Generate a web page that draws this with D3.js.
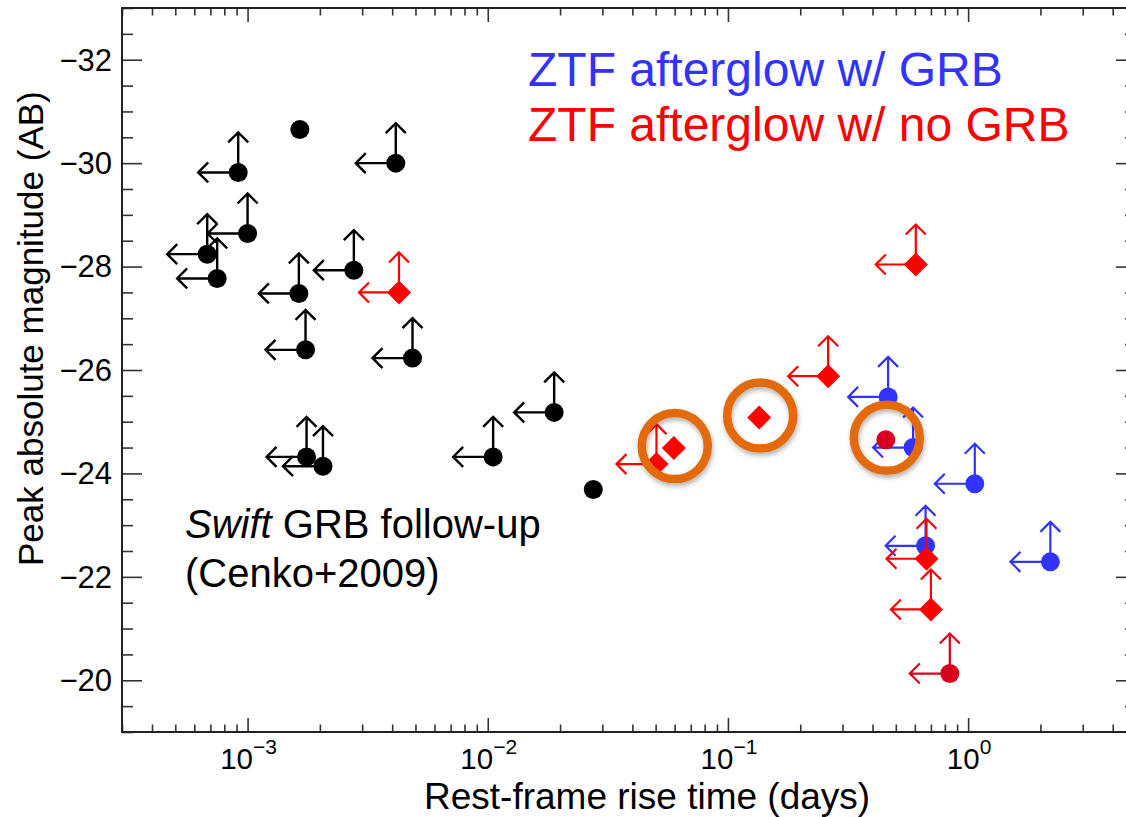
<!DOCTYPE html>
<html>
<head>
<meta charset="utf-8">
<script src="https://cdn.jsdelivr.net/npm/d3@7"></script>
<style>
  html, body { margin: 0; padding: 0; background: #fff; }
  svg { display: block; font-family: "Liberation Sans", Arial, Helvetica, sans-serif; }
</style>
</head>
<body>
<svg id="chart" width="1126" height="817"></svg>
<script>
// Swift GRB follow-up sample (Cenko+2009): rise time [days], peak abs. mag, limit flag
const swiftRise  = [1.65e-3, 9.14e-4, 1.0e-3, 6.79e-4, 7.47e-4, 1.635e-3, 1.743e-3, 2.77e-3, 4.14e-3, 4.86e-3, 1.76e-3, 2.06e-3, 1.89e-2, 1.053e-2, 2.75e-2];
const swiftMag   = [-30.65, -29.82, -28.64, -28.24, -27.77, -27.48, -26.39, -27.93, -30.0, -26.23, -24.32, -24.14, -25.18, -24.32, -23.69];
const swiftLimit = [false, true, true, true, true, true, true, true, true, true, true, true, true, true, false];

// ZTF afterglows with an associated GRB
const grbRise  = [0.4645, 0.590, 1.066, 0.665, 2.20];
const grbMag   = [-25.48, -24.50, -23.80, -22.60, -22.29];
const grbLimit = [true, true, true, true, true];

// ZTF afterglows without a GRB (diamonds)
const noGrbRise  = [4.27e-3, 5.04e-2, 5.95e-2, 0.1349, 0.2614, 0.6055, 0.671, 0.70];
const noGrbMag   = [-27.50, -24.18, -24.49, -25.08, -25.88, -28.04, -22.35, -21.37];
const noGrbLimit = [true, true, false, false, true, true, true, true];

// ZTF afterglows without a GRB (dots)
const noGrbDotRise  = [0.4542, 0.839];
const noGrbDotMag   = [-24.65, -20.13];
const noGrbDotLimit = [false, true];

// Highlighted events (ringed)
const ringRise = [5.95e-2, 0.1349, 0.4542];
const ringMag  = [-24.49, -25.08, -24.65];

const xMajorTicks = [1e-3, 1e-2, 1e-1, 1];
const xTickExp    = ["−3", "−2", "−1", "0"];
const yMajorTicks = [-32, -30, -28, -26, -24, -22, -20];

const legendLabels = ["ZTF afterglow w/ GRB", "ZTF afterglow w/ no GRB"];

const COLORS = { swift: "#000000", grb: "#3333ff", noGrb: "#ff0000", noGrbDot: "#d8001f", ring: "#e26b0a" };

const svg = d3.select("#chart");
const plotLeft = 122, plotRight = 1136, plotTop = 8, plotBottom = 732;

const x = d3.scaleLog().domain([3e-4, 5]).range([plotLeft, plotRight]);
const y = d3.scaleLinear().domain([-19, -33]).range([plotBottom, plotTop]);

const zip = (t, m, l) => t.map((v, i) => ({ t: v, m: m[i], lim: l ? l[i] : false }));

// drop shadow for the highlight rings
const defs = svg.append("defs");
const f = defs.append("filter").attr("id", "ringShadow").attr("x", "-30%").attr("y", "-30%").attr("width", "160%").attr("height", "160%");
f.append("feDropShadow").attr("dx", 1).attr("dy", 3).attr("stdDeviation", 2.5).attr("flood-color", "#000").attr("flood-opacity", 0.3);

// ---------- axes ----------
const allX = x.ticks();
const xMinor = allX.filter(v => !xMajorTicks.some(m => Math.abs(m - v) / m < 1e-6));
const yMinor = d3.range(-33, -18.9, 0.5).filter(v => !yMajorTicks.includes(v));

const axisG = svg.append("g").attr("class", "axes");
const tickCol = "#333";

function drawAxis(axis, tx, ty) {
  const g = axisG.append("g").attr("transform", `translate(${tx},${ty})`).call(axis);
  g.select(".domain").remove();
  g.selectAll("line").attr("stroke", tickCol).attr("stroke-width", 1.6);
  g.selectAll("text").remove();
  return g;
}
// bottom & top, ticks pointing inward
drawAxis(d3.axisBottom(x).tickValues(xMajorTicks).tickSizeInner(-14).tickSizeOuter(0), 0, plotBottom);
drawAxis(d3.axisBottom(x).tickValues(xMinor).tickSizeInner(-7.5).tickSizeOuter(0), 0, plotBottom);
drawAxis(d3.axisTop(x).tickValues(xMajorTicks).tickSizeInner(-14).tickSizeOuter(0), 0, plotTop);
drawAxis(d3.axisTop(x).tickValues(xMinor).tickSizeInner(-7.5).tickSizeOuter(0), 0, plotTop);
// left & right
drawAxis(d3.axisLeft(y).tickValues(yMajorTicks).tickSizeInner(-20).tickSizeOuter(0), plotLeft, 0);
drawAxis(d3.axisLeft(y).tickValues(yMinor).tickSizeInner(-11).tickSizeOuter(0), plotLeft, 0);
drawAxis(d3.axisRight(y).tickValues(yMajorTicks).tickSizeInner(-20).tickSizeOuter(0), plotRight, 0);
drawAxis(d3.axisRight(y).tickValues(yMinor).tickSizeInner(-11).tickSizeOuter(0), plotRight, 0);

axisG.append("rect")
  .attr("x", plotLeft).attr("y", plotTop).attr("width", plotRight - plotLeft).attr("height", plotBottom - plotTop)
  .attr("fill", "none").attr("stroke", "#222").attr("stroke-width", 2);

// x tick labels: 10 with superscript exponent
const xLab = axisG.append("g");
xMajorTicks.forEach((v, i) => {
  const t = xLab.append("text")
    .attr("x", x(v) + 1).attr("y", 769)
    .attr("text-anchor", "middle")
    .attr("font-size", 29.5).attr("fill", "#000");
  t.append("tspan").text("10");
  t.append("tspan").attr("dy", -15).attr("font-size", 21).text(xTickExp[i]);
});

// y tick labels
const yFmt = d3.format("d");
axisG.append("g").selectAll("text").data(yMajorTicks).join("text")
  .attr("x", 112).attr("y", d => y(d))
  .attr("dy", "0.35em")
  .attr("text-anchor", "end")
  .attr("font-size", 31).attr("fill", "#000")
  .text(d => yFmt(d));

// axis titles
svg.append("text")
  .attr("x", 424).attr("y", 809)
  .attr("font-size", 37).attr("fill", "#000")
  .text("Rest-frame rise time (days)");
svg.append("text")
  .attr("transform", "translate(43,566) rotate(-90)")
  .attr("font-size", 35).attr("fill", "#000")
  .text("Peak absolute magnitude (AB)");

// ---------- data marks ----------
const plot = svg.append("g");
const ARROW = 40, HEAD = 10;

function limitArrows(g, data, color, width) {
  const a = g.append("g").attr("stroke", color).attr("stroke-width", width).attr("fill", "none")
    .attr("stroke-linecap", "butt").attr("stroke-linejoin", "miter");
  a.selectAll("path").data(data.filter(d => d.lim)).join("path")
    .attr("d", d => {
      const cx = x(d.t), cy = y(d.m);
      return `M${cx},${cy}V${cy - ARROW}` +
             `M${cx - HEAD},${cy - ARROW + HEAD}L${cx},${cy - ARROW}L${cx + HEAD},${cy - ARROW + HEAD}` +
             `M${cx},${cy}H${cx - ARROW}` +
             `M${cx - ARROW + HEAD},${cy - HEAD}L${cx - ARROW},${cy}L${cx - ARROW + HEAD},${cy + HEAD}`;
    });
}
function dots(g, data, color, r) {
  g.append("g").selectAll("circle").data(data).join("circle")
    .attr("cx", d => x(d.t)).attr("cy", d => y(d.m)).attr("r", r).attr("fill", color);
}
function diamonds(g, data, color, s) {
  g.append("g").selectAll("path").data(data).join("path")
    .attr("d", d => {
      const cx = x(d.t), cy = y(d.m);
      return `M${cx},${cy - s}L${cx + s},${cy}L${cx},${cy + s}L${cx - s},${cy}Z`;
    })
    .attr("fill", color);
}

const swift = zip(swiftRise, swiftMag, swiftLimit);
const grb = zip(grbRise, grbMag, grbLimit);
const noGrb = zip(noGrbRise, noGrbMag, noGrbLimit);
const noGrbDot = zip(noGrbDotRise, noGrbDotMag, noGrbDotLimit);

limitArrows(plot, swift, COLORS.swift, 2.4);
dots(plot, swift, COLORS.swift, 9.5);

limitArrows(plot, grb, COLORS.grb, 2.2);
dots(plot, grb, COLORS.grb, 9.5);

limitArrows(plot, noGrb, COLORS.noGrb, 2.2);
diamonds(plot, noGrb, COLORS.noGrb, 12);

limitArrows(plot, noGrbDot, COLORS.noGrbDot, 2.2);
dots(plot, noGrbDot, COLORS.noGrbDot, 9.5);

// highlight rings
plot.append("g").selectAll("circle").data(zip(ringRise, ringMag)).join("circle")
  .attr("cx", d => x(d.t) + 1).attr("cy", d => y(d.m) - 2)
  .attr("r", 33)
  .attr("fill", "none").attr("stroke", COLORS.ring).attr("stroke-width", 8.5)
  .attr("filter", "url(#ringShadow)");

// ---------- annotations ----------
const leg = svg.append("g").attr("font-size", 48);
leg.append("text").attr("x", 528).attr("y", 86).attr("fill", COLORS.grb).text(legendLabels[0]);
leg.append("text").attr("x", 528).attr("y", 141).attr("fill", COLORS.noGrb).text(legendLabels[1]);

const note = svg.append("g").attr("font-size", 40).attr("fill", "#000");
const l1 = note.append("text").attr("x", 185).attr("y", 538);
l1.append("tspan").attr("font-style", "italic").text("Swift");
l1.append("tspan").text(" GRB follow-up");
note.append("text").attr("x", 185).attr("y", 587).text("(Cenko+2009)");
</script>
</body>
</html>
